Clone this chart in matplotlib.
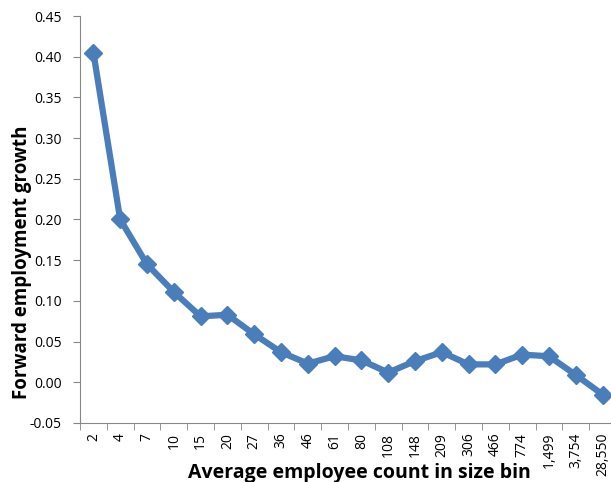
import matplotlib
matplotlib.use("Agg")
import matplotlib.pyplot as plt
import numpy as np

categories = ["2", "4", "7", "10", "15", "20", "27", "36", "46", "61", "80",
              "108", "148", "209", "306", "466", "774", "1,499", "3,754", "28,550"]
growth = [0.405, 0.200, 0.145, 0.111, 0.081, 0.083, 0.059, 0.037, 0.023, 0.032,
          0.027, 0.012, 0.026, 0.037, 0.022, 0.022, 0.034, 0.032, 0.009, -0.015]
yticks = [-0.05, 0.00, 0.05, 0.10, 0.15, 0.20, 0.25, 0.30, 0.35, 0.40, 0.45]

plt.rcParams['font.family'] = ['Open Sans', 'DejaVu Sans']

fig = plt.figure(figsize=(6.11, 4.82), dpi=100)
ax = fig.add_axes([80/611, 1-423/482, 536/611, (423-16)/482])

x = np.arange(len(categories))
ax.plot(x, growth, color='#4A7EBB', linewidth=4.5, marker='D', markersize=9,
        markerfacecolor='#4A7EBB', markeredgecolor='#4A7EBB', clip_on=False,
        solid_joinstyle='round')

ax.set_xlim(-0.5, len(categories) - 0.5)
ax.set_ylim(-0.05, 0.45)
ax.set_yticks(yticks)
ax.set_yticklabels([f"{v:.2f}" for v in yticks], fontsize=10)
ax.set_xticks(x)
ax.set_xticklabels(categories, rotation=90, fontsize=10)
ax.set_xticks(np.arange(-0.5, len(categories) + 0.5, 1), minor=True)
ax.tick_params(axis='x', which='major', length=0, pad=7)
ax.tick_params(axis='x', which='minor', length=5, color='#868686', direction='out')
ax.tick_params(axis='y', length=5, color='#868686', direction='out', pad=8)

for s in ['top', 'right']:
    ax.spines[s].set_visible(False)
for s in ['left', 'bottom']:
    ax.spines[s].set_color('#868686')

fig.text(22/611, 1-262/482, "Forward employment growth", rotation=90,
         fontsize=13.5, fontweight='bold', ha='center', va='center')
fig.text(359/611, 1-473/482, "Average employee count in size bin",
         fontsize=14, fontweight='bold', ha='center', va='center')

fig.savefig("out.png", dpi=100)
